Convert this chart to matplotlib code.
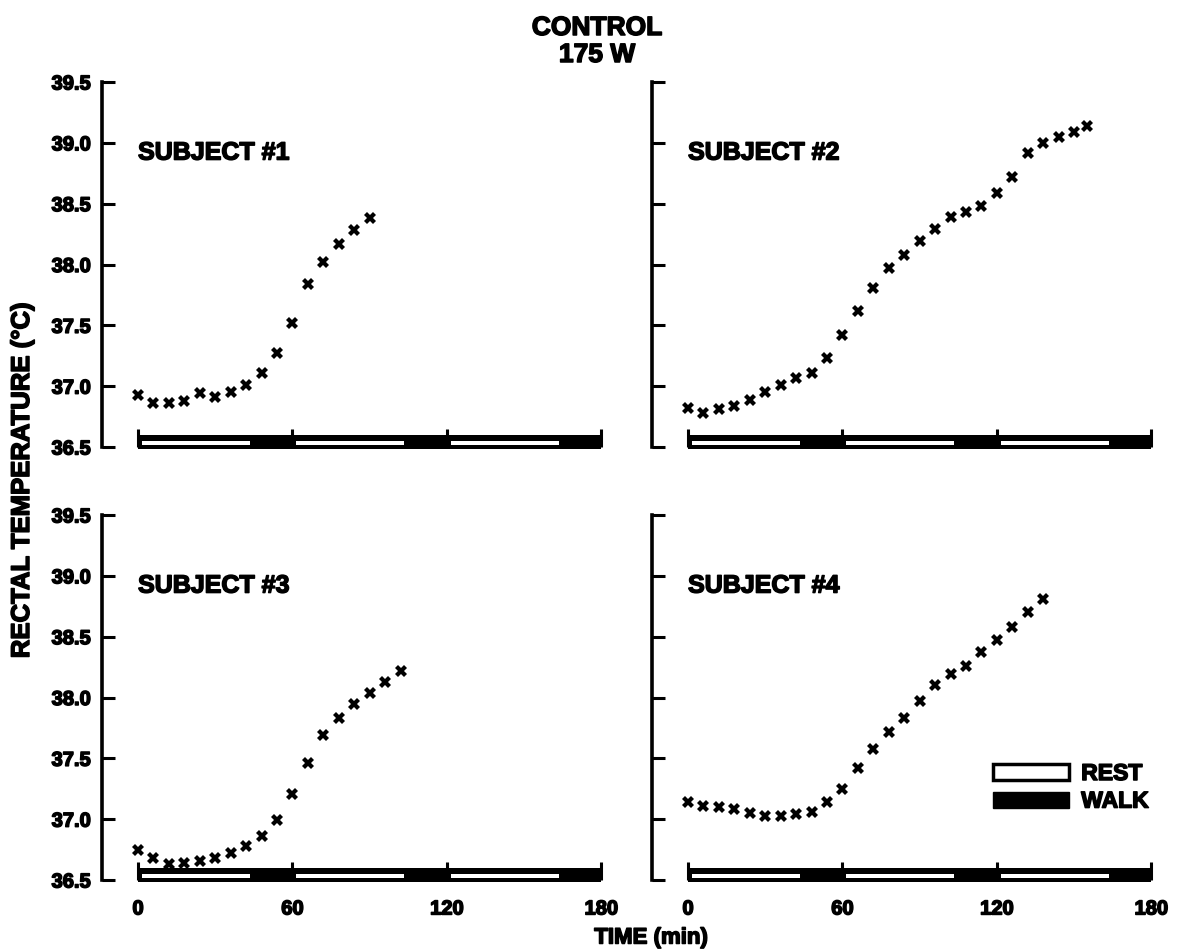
import matplotlib.pyplot as plt
import matplotlib.patheffects as pe
from matplotlib.patches import Patch

plt.rcParams['font.family'] = ['Liberation Sans', 'DejaVu Sans']
plt.rcParams['font.weight'] = 'bold'

# time (min) and rectal temperature (C) for each subject
t1 = [0, 6, 12, 18, 24, 30, 36, 42, 48, 54, 60, 66, 72, 78, 84, 90]
s1 = [36.93, 36.86, 36.86, 36.88, 36.94, 36.91, 36.95, 37.01, 37.11, 37.27,
      37.52, 37.84, 38.02, 38.17, 38.28, 38.38]

t2 = [0, 6, 12, 18, 24, 30, 36, 42, 48, 54, 60, 66, 72, 78, 84, 90, 96, 102,
      108, 114, 120, 126, 132, 138, 144, 150, 155]
s2 = [36.82, 36.78, 36.81, 36.84, 36.89, 36.95, 37.01, 37.07, 37.11, 37.23,
      37.42, 37.62, 37.81, 37.97, 38.08, 38.19, 38.29, 38.39, 38.43, 38.48,
      38.59, 38.72, 38.92, 39.00, 39.05, 39.09, 39.14]

t3 = [0, 6, 12, 18, 24, 30, 36, 42, 48, 54, 60, 66, 72, 78, 84, 90, 96, 102]
s3 = [36.75, 36.68, 36.63, 36.64, 36.66, 36.68, 36.72, 36.78, 36.86, 36.99,
      37.21, 37.46, 37.69, 37.83, 37.95, 38.04, 38.13, 38.22]

t4 = [0, 6, 12, 18, 24, 30, 36, 42, 48, 54, 60, 66, 72, 78, 84, 90, 96, 102,
      108, 114, 120, 126, 132, 138]
s4 = [37.14, 37.11, 37.10, 37.08, 37.05, 37.03, 37.03, 37.04, 37.06, 37.14,
      37.25, 37.42, 37.58, 37.72, 37.83, 37.97, 38.10, 38.19, 38.26, 38.37,
      38.47, 38.58, 38.70, 38.81]

subjects = ['SUBJECT #1', 'SUBJECT #2', 'SUBJECT #3', 'SUBJECT #4']
times = [t1, t2, t3, t4]
temps = [s1, s2, s3, s4]

# protocol: rest / walk periods (min)
rest_periods = [(0, 45), (60, 105), (120, 165)]
walk_periods = [(45, 60), (105, 120), (165, 180)]

yticks = [36.5, 37.0, 37.5, 38.0, 38.5, 39.0, 39.5]
xticks = [0, 60, 120, 180]

# heavy print look
heavy = [pe.withStroke(linewidth=1.1, foreground='black')]

W, H = 1188, 951
fig = plt.figure(figsize=(W / 100, H / 100), dpi=100)

# axes positions in pixels: left, bottom(y of 36.5)
lefts = [102, 652, 102, 652]
bottoms = [447, 447, 880, 880]

for i in range(4):
    ax = fig.add_axes([lefts[i] / W, 1 - bottoms[i] / H, 507 / W, 365 / H])
    ax.plot(times[i], temps[i], linestyle='none', marker='X', ms=8.5,
            color='black', markeredgewidth=0)
    ax.set_xlim(-14, 183)
    ax.set_ylim(36.5, 39.5)

    for s in ['top', 'right', 'bottom']:
        ax.spines[s].set_visible(False)
    ax.spines['left'].set_linewidth(2.6)
    ax.spines['left'].set_bounds(36.5, 39.5)

    ax.set_yticks(yticks)
    ax.set_xticks(xticks)
    ax.tick_params(axis='y', direction='in', length=9.5, width=2.2, pad=8,
                   labelsize=14.5)
    ax.tick_params(axis='x', direction='in', length=13, width=2.2, pad=14,
                   labelsize=14.5)
    if i % 2 == 1:
        ax.set_yticklabels([])
    else:
        ax.set_yticklabels([f'{v:.1f}' for v in yticks])
    if i < 2:
        ax.set_xticklabels([])
    for lab in ax.get_xticklabels() + ax.get_yticklabels():
        lab.set_path_effects(heavy)

    # rest/walk bar along the time axis
    ax.broken_barh([(0, 180)], (36.484, 0.118), facecolor='black',
                   clip_on=False)
    ax.broken_barh([(a + 1.5, b - a - 3) for a, b in rest_periods],
                   (36.52, 0.027), facecolor='white', clip_on=False)
    ax.broken_barh([(a, b - a) for a, b in walk_periods], (36.484, 0.118),
                   facecolor='black', clip_on=False)

    ax.text(0, 38.92, subjects[i], fontsize=18, fontweight='bold',
            ha='left', va='center', path_effects=heavy)

fig.text(597 / W, 1 - 28 / H, 'CONTROL', ha='center', va='center',
         fontsize=19, fontweight='bold', path_effects=heavy)
fig.text(597 / W, 1 - 55 / H, '175 W', ha='center', va='center',
         fontsize=19, fontweight='bold', path_effects=heavy)
fig.text(651 / W, 1 - 938 / H, 'TIME (min)', ha='center', va='center',
         fontsize=16, fontweight='bold', path_effects=heavy)
fig.text(22 / W, 1 - 480 / H, 'RECTAL TEMPERATURE (°C)', ha='center',
         va='center', rotation=90, fontsize=18.5, fontweight='bold',
         path_effects=heavy)

handles = [Patch(facecolor='white', edgecolor='black', linewidth=2.5),
           Patch(facecolor='black', edgecolor='black')]
leg = fig.legend(handles, ['REST', 'WALK'], loc='upper left',
                 bbox_to_anchor=(993 / W, 1 - 762 / H), frameon=False,
                 borderpad=0, borderaxespad=0, handlelength=3.3,
                 handleheight=0.7, handletextpad=0.55, labelspacing=0.2,
                 prop={'weight': 'bold', 'size': 16.5})
for txt in leg.get_texts():
    txt.set_path_effects(heavy)

fig.savefig('out.png', dpi=100)
